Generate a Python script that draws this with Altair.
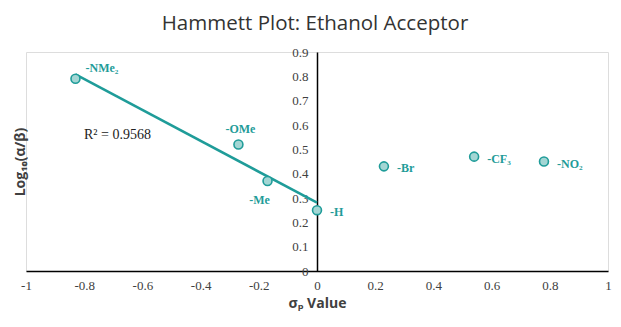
import altair as alt
import pandas as pd

# ---- data ----
substituents = ["-NMe₂", "-OMe", "-Me", "-H", "-Br", "-CF₃", "-NO₂"]
sigma_p = [-0.83, -0.27, -0.17, 0.0, 0.23, 0.54, 0.78]
log_ratio = [0.79, 0.52, 0.37, 0.25, 0.43, 0.47, 0.45]
in_fit = [True, True, True, True, False, False, False]
label_pos = ["upright", "above", "belowleft", "right", "right", "right", "right"]

x_ticks = [-1, -0.8, -0.6, -0.4, -0.2, 0, 0.2, 0.4, 0.6, 0.8, 1]
y_ticks = [0, 0.1, 0.2, 0.3, 0.4, 0.5, 0.6, 0.7, 0.8, 0.9]
r2_text = "R² = 0.9568"

df = pd.DataFrame({
    "sub": substituents,
    "sigma": sigma_p,
    "logr": log_ratio,
    "fit": in_fit,
    "pos": label_pos,
})

W, H = 582, 219
TEAL = "#1f9c99"
SERIF = "Liberation Serif"
SANS = "Open Sans"

xs = alt.Scale(domain=[-1, 1], nice=False, zero=False)
ys = alt.Scale(domain=[0, 0.9], nice=False, zero=False)

x_enc = alt.X("sigma:Q", scale=xs, axis=alt.Axis(
    values=x_ticks, labelExpr="'' + datum.value", grid=False, ticks=False,
    domainColor="black", domainWidth=1.5, labelFont=SERIF, labelFontSize=13,
    labelColor="#404040", labelPadding=8, labelFlush=False, labelOverlap=False,
    title="σₚ Value", titleFont=SANS, titleFontSize=14, titleFontWeight="bold",
    titleColor="#404040", titlePadding=4))
y_enc = alt.Y("logr:Q", scale=ys, axis=alt.Axis(
    values=y_ticks, labelExpr="'' + datum.value", grid=False, ticks=False,
    offset=-W / 2, domainColor="black", domainWidth=1.5, labelFont=SERIF,
    labelFontSize=13, labelColor="#404040", labelPadding=9, labelFlush=False,
    labelOverlap=False,
    title="Log₁₀(α/β)", titleFont=SANS, titleFontSize=14, titleFontWeight="bold",
    titleColor="#404040", titleX=-W / 2 - 6, titleY=H / 2, titleAngle=-90,
    titleBaseline="middle", titleAlign="center"))

base = alt.Chart(df)

line = base.transform_filter("datum.fit").transform_regression(
    "sigma", "logr").mark_line(color=TEAL, strokeWidth=2.5).encode(
    x=x_enc, y=y_enc)

pts = base.mark_point(shape="circle", filled=True, size=80, fill="#a3d6d4",
                      stroke=TEAL, strokeWidth=1.6, opacity=1).encode(
    x=x_enc, y=y_enc)

def lbl(pos, **kw):
    return base.transform_filter(f"datum.pos == '{pos}'").mark_text(
        font=SERIF, fontSize=12, fontWeight="bold", color=TEAL, **kw).encode(
        x=x_enc, y=y_enc, text="sub:N")

labels = [
    lbl("upright", align="left", dx=10, dy=-11),
    lbl("above", align="center", dx=2, dy=-15),
    lbl("belowleft", align="center", dx=-8, dy=19),
    lbl("right", align="left", dx=13, dy=2),
]

r2 = alt.Chart(pd.DataFrame({"t": [r2_text]})).mark_text(
    font=SERIF, fontSize=14, color="#222222", align="left").encode(
    text="t:N", x=alt.value(58), y=alt.value(83))

chart = alt.layer(line, pts, *labels, r2).properties(
    width=W, height=H,
    autosize=alt.AutoSizeParams(type="none"),
    padding={"left": 18, "top": 44, "right": 5, "bottom": 42},
    title=alt.TitleParams("Hammett Plot: Ethanol Acceptor", font=SANS,
                          fontSize=20.5, fontWeight="normal", color="#333333",
                          anchor="middle", offset=12, dx=-2),
).configure_view(strokeWidth=0).configure(background="white")

chart.save("out.html", embed_options={"renderer": "svg", "actions": False})
